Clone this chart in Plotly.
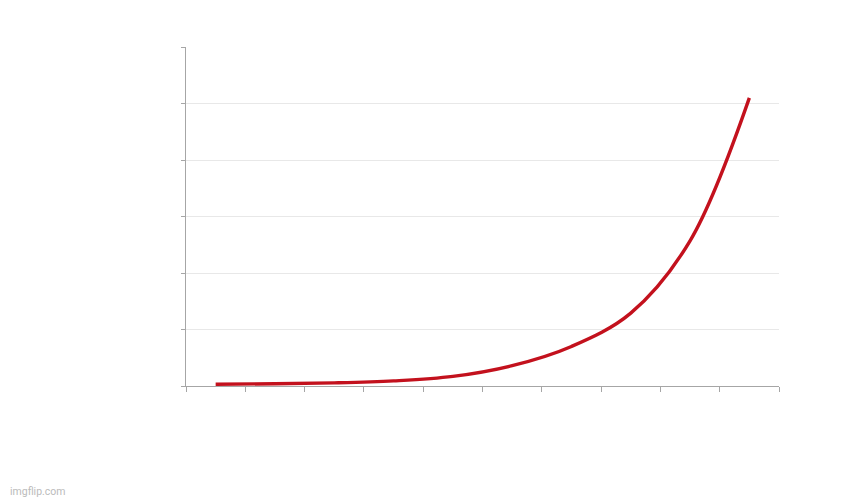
import plotly.graph_objects as go

# values (no labels shown in the original)
steps = [1, 2, 3, 4, 5, 6, 7, 8, 9, 10]
growth = [0.03, 0.04, 0.055, 0.09, 0.17, 0.36, 0.70, 1.29, 2.57, 5.1]
x_ticks = [0.5, 1.5, 2.5, 3.5, 4.5, 5.5, 6.5, 7.5, 8.5, 9.5, 10.5]
y_ticks = [0, 1, 2, 3, 4, 5, 6]

fig = go.Figure(
    go.Scatter(
        x=steps,
        y=growth,
        mode="lines",
        line=dict(color="#c3111d", width=3.4, shape="spline", smoothing=1.0),
        hoverinfo="skip",
    )
)

# page body adds ~8px offset, so margins are shifted to compensate
fig.update_layout(
    width=844,
    height=500,
    margin=dict(l=178, r=73, t=39, b=122),
    paper_bgcolor="white",
    plot_bgcolor="white",
    showlegend=False,
    annotations=[
        dict(
            text="imgflip.com",
            xref="paper",
            yref="paper",
            x=-178 / 593,
            y=-105 / 339,
            xanchor="left",
            yanchor="middle",
            showarrow=False,
            font=dict(family="Roboto", size=10.5, color="#bbbbbb"),
        )
    ],
)
fig.update_xaxes(
    range=[0.5, 10.5],
    tickvals=x_ticks,
    showticklabels=False,
    ticks="outside",
    ticklen=5,
    tickcolor="#a6a6a6",
    showline=True,
    linecolor="#a6a6a6",
    linewidth=1,
    showgrid=False,
    zeroline=False,
)
fig.update_yaxes(
    range=[0, 6],
    tickvals=y_ticks,
    showticklabels=False,
    ticks="outside",
    ticklen=4,
    tickcolor="#a6a6a6",
    showline=True,
    linecolor="#a6a6a6",
    linewidth=1,
    showgrid=True,
    gridcolor="#e8e8e8",
    gridwidth=1,
    zeroline=False,
)

fig.write_html("out.html")
